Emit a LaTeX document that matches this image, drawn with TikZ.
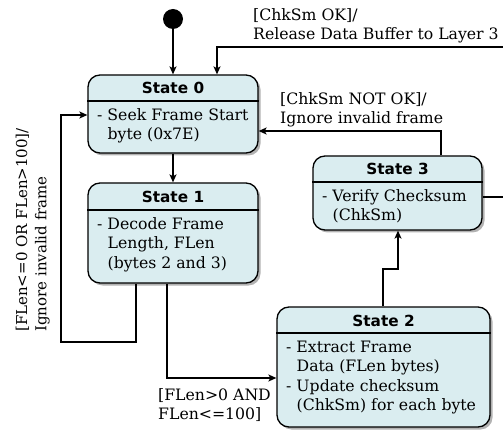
\documentclass[tikz,border=0pt]{standalone}
\usepackage{fontspec}
\setmainfont{DejaVu Serif}
\newfontfamily\titlefont{DejaVu Sans}
\usetikzlibrary{arrows.meta,shadows}
\definecolor{boxfill}{HTML}{DAEDF0}
\newcommand\myind{\hspace*{10.5pt}}
\begin{document}
\begin{tikzpicture}[x=1pt,y=-1pt,
  statebox/.style={draw, line width=1.3pt, rounded corners=12pt, fill=boxfill, inner sep=0pt,
    drop shadow={shadow xshift=2.5pt, shadow yshift=-2.5pt, opacity=0.3, fill=black}},
  divider/.style={line width=1.3pt},
  title/.style={font=\titlefont\bfseries\fontsize{15.3}{18}\selectfont, anchor=base, inner sep=0pt},
  body/.style={font=\fontsize{15.7}{19.2}\selectfont, align=left, anchor=north west, inner sep=0pt},
  arr/.style={line width=1.2pt, -{Stealth[length=8pt,width=7pt,inset=2pt]}}]
\useasboundingbox (0,0) rectangle (503,430);
\clip (0,0) rectangle (503,430);

% states
\node[statebox, minimum width=170pt, minimum height=78pt] (s0) at (173,114) {};
\node[statebox, minimum width=170pt, minimum height=100pt] (s1) at (173,233) {};
\node[statebox, minimum width=169pt, minimum height=74pt] (s3) at (397.5,193) {};
\node[statebox, minimum width=213pt, minimum height=120pt] (s2) at (383.5,367) {};

\draw[divider] (s0.west |- 0,101) -- (s0.east |- 0,101);
\draw[divider] (s1.west |- 0,210) -- (s1.east |- 0,210);
\draw[divider] (s3.west |- 0,182) -- (s3.east |- 0,182);
\draw[divider] (s2.west |- 0,333) -- (s2.east |- 0,333);

\node[title] (t0) at (173,94) {State 0};
\node[title] (t1) at (173,203) {State 1};
\node[title] (t3) at (397.5,175) {State 3};
\node[title] (t2) at (383.5,326) {State 2};

\node[body] (b0) at (97,108.5) {\rule{0pt}{12pt}- Seek Frame Start\\\myind byte (0x7E)};
\node[body] (b1) at (97,217.5) {\rule{0pt}{12pt}- Decode Frame\\\myind Length, FLen\\\myind (bytes 2 and 3)};
\node[body] (b3) at (322,189.5) {\rule{0pt}{12pt}- Verify Checksum\\\myind (ChkSm)};
\node[body] (b2) at (286,340.5) {\rule{0pt}{12pt}- Extract Frame\\\myind Data (FLen bytes)\\- Update checksum\\\myind (ChkSm) for each byte};

% start
\node[circle, fill=black, minimum size=20pt, inner sep=0pt] (start) at (173,19) {};

% labels
\node[body] (l0) at (253,8) {\rule{0pt}{12pt}[ChkSm OK]/\\Release Data Buffer to Layer 3};
\node[body] (l1) at (280,92) {\rule{0pt}{12pt}[ChkSm NOT OK]/\\Ignore invalid frame};
\node[body, rotate=90, font=\fontsize{15}{19.2}\selectfont] (l2) at (15,332) {\rule{0pt}{12pt}[FLen<=0 OR FLen>100]/\\Ignore invalid frame};
\node[body] (l3) at (158,388) {\rule{0pt}{12pt}[FLen>0 AND\\FLen<=100]};

% connectors
\coordinate (r1) at (512,197);
\coordinate (r2) at (512,47);
\draw[arr] (start) -- (s0);
\draw[arr] (s0) -- (s1);
\draw[arr] (s3.east |- 0,197) -- (r1) -- (r2) -- (217,47) -- (s0.north -| 217,0);
\draw[arr] (s3.north -| 441,0) -- (441,131) -- (s0.east |- 0,131);
\draw[arr] (s1.south -| 136,0) -- (136,342) -- (61,342) -- (61,115) -- (s0.west |- 0,115);
\draw[arr] (s1.south -| 167,0) -- (167,378) -- (s2.west |- 0,378);
\draw[arr] (s2.north -| 383,0) -- (383,269) -- (398,269) -- (s3.south -| 398,0);
\end{tikzpicture}
\end{document}
